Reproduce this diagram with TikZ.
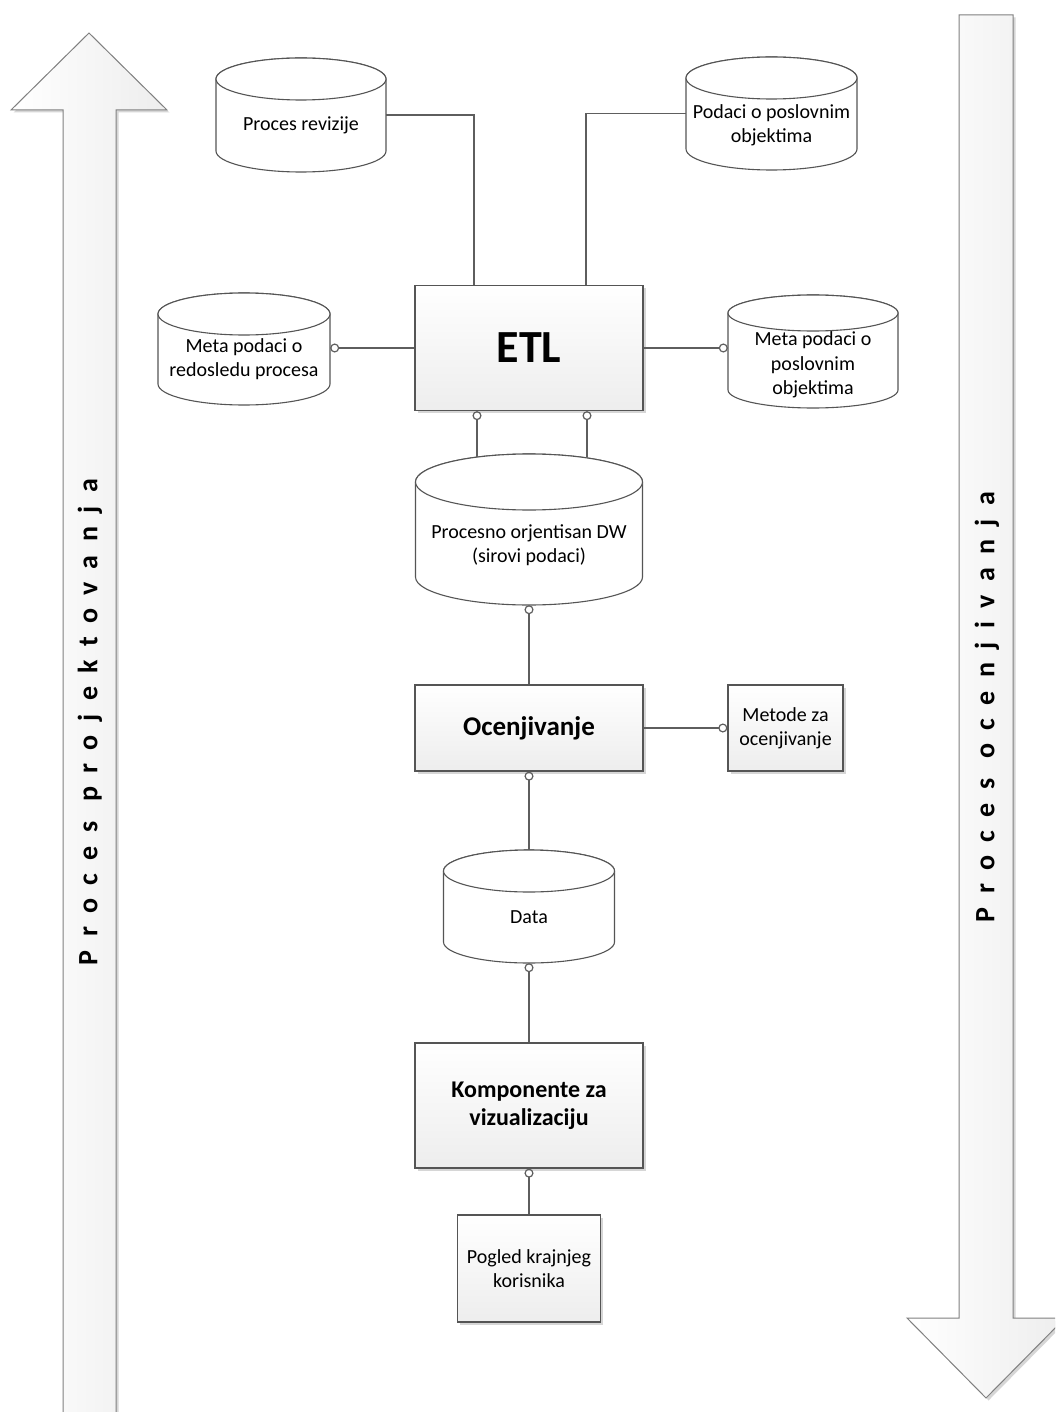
\documentclass[tikz,border=0pt]{standalone}
\usepackage{fontspec}
\setmainfont{Carlito}
\newfontfamily\spacedfont[LetterSpace=48]{Carlito}
\usetikzlibrary{arrows.meta,shadows,calc}

\definecolor{edge}{HTML}{555555}
\definecolor{wirecol}{HTML}{5E5E5E}

\tikzset{
  x=1pt, y=-1pt,
  every node/.style={inner sep=0pt},
  ring/.tip={Circle[open, length=9pt, width=9pt]},
  softshadow/.style={drop shadow={shadow xshift=2.5pt, shadow yshift=-2.5pt, fill=black!40, opacity=.4}},
  box/.style={draw=edge, line width=1.3pt, top color=white, bottom color=black!7,
    softshadow, align=center, font=\bfseries\fontsize{24}{28.5}\selectfont},
  smallbox/.style={box, font=\fontsize{20}{24.4}\selectfont},
  cylbody/.style={fill=white, draw=edge, line width=1.1pt},
  cyltext/.style={align=center, font=\fontsize{20}{24.4}\selectfont},
  wire/.style={draw=wirecol, line width=1.2pt},
  bigarrow/.style={draw=black!50, line width=1pt, left color=white, right color=black!7, softshadow},
  sidelabel/.style={rotate=90, font=\spacedfont\bfseries\fontsize{28}{32}\selectfont}
}

% database cylinder: name, centre x, centre y, half width, half height, cap radius, text y, text
\newcommand\cylinder[8]{%
  \path[cylbody] (#2-#4,#3-#5+#6) -- (#2-#4,#3+#5-#6)
    arc[start angle=180, end angle=360, x radius=#4pt, y radius=#6pt]
    -- (#2+#4,#3-#5+#6)
    arc[start angle=0, end angle=180, x radius=#4pt, y radius=#6pt] -- cycle;
  \draw[cylbody] (#2,#3-#5+#6) ellipse[x radius=#4pt, y radius=#6pt];
  \node[minimum width=2*#4pt, minimum height=2*#5pt] (#1) at (#2,#3) {};
  \node[cyltext] (#1-text) at (#2,#7) {#8};
}

\begin{document}
\begin{tikzpicture}
\useasboundingbox (0,0) rectangle (1055,1412);
\clip (0,0) rectangle (1055,1412);
\fill[white] (0,0) rectangle (1055,1412);

% side arrows
\path[bigarrow] (63,1440) -- (63,110) -- (11,110) -- (89,33) -- (167,110)
  -- (116,110) -- (116,1440) -- cycle;
\node[sidelabel] (design) at (90,722) {Proces projektovanja};

\path[bigarrow] (959,15) -- (1013,15) -- (1013,1318) -- (1065,1318)
  -- (986,1398) -- (907,1318) -- (959,1318) -- cycle;
\node[sidelabel] (rating) at (987,707) {Proces ocenjivanja};

% data stores
\cylinder{rev}{301}{115}{85}{57}{21}{125}{Proces revizije}
\cylinder{pod}{771.5}{113.5}{85.5}{56.5}{21}{125}{Podaci o poslovnim\\objektima}
\cylinder{redos}{244}{349}{86}{56}{21}{359}{Meta podaci o\\redosledu procesa}
\cylinder{metapos}{813}{351.5}{85}{56.5}{18}{365}{Meta podaci o\\poslovnim\\objektima}
\cylinder{dw}{529}{529.5}{113.5}{75.5}{28}{545}{Procesno orjentisan DW\\(sirovi podaci)}
\cylinder{data}{529}{906.5}{85.5}{56.5}{21}{917}{Data}

% processing components
\node[box, minimum width=228pt, minimum height=125pt,
  font=\bfseries\fontsize{46}{50}\selectfont] (etl) at (529,348) {ETL};
\node[box, minimum width=228pt, minimum height=86pt,
  font=\bfseries\fontsize{27}{32}\selectfont] (oc) at (529,728) {Ocenjivanje};
\node[smallbox, minimum width=115pt, minimum height=86pt] (met) at (785.5,728) {Metode za\\ocenjivanje};
\node[box, minimum width=228pt, minimum height=125pt] (komp) at (529,1105.5) {Komponente za\\vizualizaciju};
\node[smallbox, minimum width=143pt, minimum height=107pt] (pog) at (529,1268.5) {Pogled krajnjeg\\korisnika};

% connectors
\draw[wire] (rev.east) -| ([xshift=-55pt]etl.north);
\draw[wire] (pod.west) -| ([xshift=57pt]etl.north);
\draw[wire,-{ring}] (etl.west) -- (etl.west -| redos.east);
\draw[wire,-{ring}] (etl.east) -- (etl.east -| metapos.west);
\draw[wire,{ring}-] ([xshift=-52pt]etl.south) -- ([xshift=-52pt,yshift=-3pt]dw.north);
\draw[wire,{ring}-] ([xshift=58pt]etl.south) -- ([xshift=58pt,yshift=-3pt]dw.north);
\draw[wire,{ring}-] (dw.south) -- (dw.south |- oc.north);
\draw[wire,-{ring}] (oc.east) -- (met.west);
\draw[wire,{ring}-] (oc.south) -- (oc.south |- data.north);
\draw[wire,{ring}-] (data.south) -- (data.south |- komp.north);
\draw[wire,{ring}-] (komp.south) -- (komp.south |- pog.north);
\end{tikzpicture}
\end{document}
